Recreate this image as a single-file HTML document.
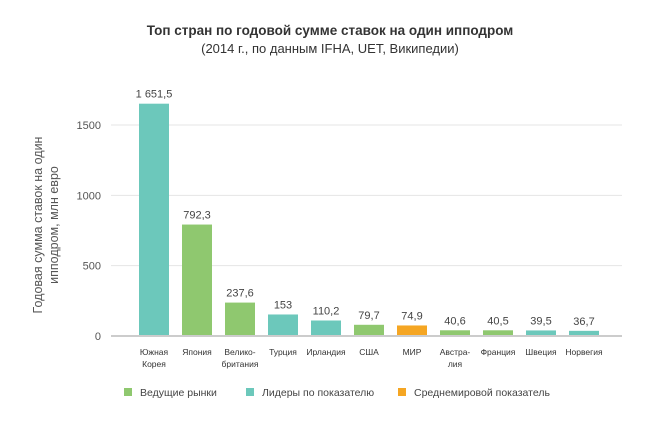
<!DOCTYPE html>
<html><head><meta charset="utf-8"><style>
body{margin:0;background:#fff;font-family:"Liberation Sans",sans-serif;}
svg text{font-family:"Liberation Sans",sans-serif;}
</style></head><body>
<svg width="660" height="432" xmlns="http://www.w3.org/2000/svg">
<text x="330" y="35" text-anchor="middle" font-size="13.5" font-weight="bold" fill="#333">Топ стран по годовой сумме ставок на один ипподром</text>
<text x="330" y="53" text-anchor="middle" font-size="13" fill="#333">(2014 г., по данным IFHA, UET, Википедии)</text>
<text transform="translate(48,225) rotate(-90)" text-anchor="middle" font-size="12.5" fill="#555"><tspan x="0" dy="-6">Годовая сумма ставок на один</tspan><tspan x="0" dy="16">ипподром, млн евро</tspan></text>
<g id="grid"></g><g id="bars"></g><g id="labels"></g>
<g>
<rect x="124" y="388" width="8" height="8" fill="#8fc86f"/>
<text x="140" y="396" font-size="10.5" fill="#444">Ведущие рынки</text>
<rect x="246" y="388" width="8" height="8" fill="#6cc8bb"/>
<text x="262" y="396" font-size="10.5" fill="#444">Лидеры по показателю</text>
<rect x="398" y="388" width="8" height="8" fill="#f5a623"/>
<text x="414" y="396" font-size="10.5" fill="#444">Среднемировой показатель</text>
</g>
</svg>
<script>
const categories=[["Южная","Корея"],["Япония"],["Велико-","британия"],["Турция"],["Ирландия"],["США"],["МИР"],["Австра-","лия"],["Франция"],["Швеция"],["Норвегия"]];
const values=[1651.5,792.3,237.6,153,110.2,79.7,74.9,40.6,40.5,39.5,36.7];
const valueLabels=["1 651,5","792,3","237,6","153","110,2","79,7","74,9","40,6","40,5","39,5","36,7"];
const groups=["lead","main","main","lead","lead","main","world","main","main","lead","lead"];
const ticks=[0,500,1000,1500];
const colors={lead:"#6cc8bb",main:"#8fc86f",world:"#f5a623"};
const NS="http://www.w3.org/2000/svg";
const x0=111,x1=622,y0=336,scale=(336-125)/1500;
const y=v=>y0-v*scale;
const step=43,bw=30;
const cx=i=>154+i*step;
function mk(t,a,p){const e=document.createElementNS(NS,t);for(const k in a)e.setAttribute(k,a[k]);p.appendChild(e);return e;}
const grid=document.getElementById('grid'),bars=document.getElementById('bars'),labels=document.getElementById('labels');
ticks.forEach(t=>{
 const l=mk('line',{x1:x0,x2:x1,y1:y(t),y2:y(t),stroke:t===0?'#ccc':'#e4e4e4','stroke-width':t===0?2:1},grid);
 
 
 const tx=mk('text',{x:101,y:y(t)+4,'text-anchor':'end','font-size':11,fill:'#555'},grid);
 tx.textContent=t;
 
 
});
values.forEach((v,i)=>{
 const r=mk('rect',{x:cx(i)-bw/2,y:y(v),width:bw,height:y0-1-y(v),fill:colors[groups[i]]},bars);
 
 
 const t=mk('text',{x:cx(i),y:y(v)-6,'text-anchor':'middle','font-size':11,fill:'#444'},labels);
 t.textContent=valueLabels[i];
 
 
 const c=mk('text',{x:cx(i),y:355,'text-anchor':'middle','font-size':8.5,fill:'#333'},labels);
 
 
 categories[i].forEach((s,j)=>{const ts=mk('tspan',{x:cx(i),dy:j?12:0},c);ts.textContent=s;});
});
</script>
</body></html>
